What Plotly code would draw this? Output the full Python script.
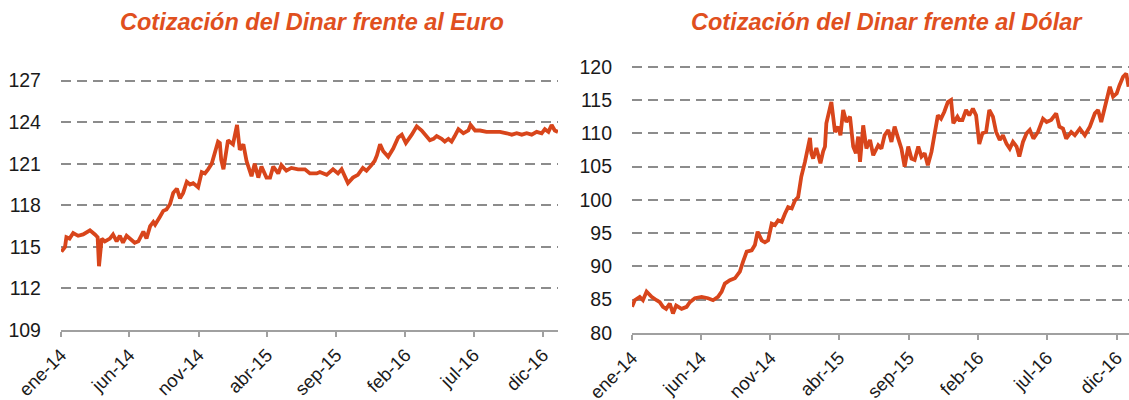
import plotly.graph_objects as go

# ---------------- Data ----------------
eur_dates = [
    "2014-01-02", "2014-01-10", "2014-01-13", "2014-01-20", "2014-01-28", "2014-02-08", "2014-02-19",
    "2014-03-06", "2014-03-17", "2014-03-23", "2014-03-26", "2014-04-01", "2014-04-08", "2014-04-19",
    "2014-04-26", "2014-05-04", "2014-05-11", "2014-05-18", "2014-05-26", "2014-06-06", "2014-06-13",
    "2014-06-21", "2014-07-02", "2014-07-09", "2014-07-17", "2014-07-24", "2014-07-28", "2014-08-08",
    "2014-08-15", "2014-08-22", "2014-08-30", "2014-09-06", "2014-09-14", "2014-09-21", "2014-09-28",
    "2014-10-06", "2014-10-13", "2014-10-20", "2014-10-31", "2014-11-08", "2014-11-15", "2014-11-22",
    "2014-11-30", "2014-12-07", "2014-12-14", "2014-12-18", "2014-12-21", "2014-12-26", "2015-01-05",
    "2015-01-16", "2015-01-25", "2015-01-31", "2015-02-08", "2015-02-15", "2015-02-26", "2015-03-05",
    "2015-03-13", "2015-03-20", "2015-03-31", "2015-04-08", "2015-04-15", "2015-04-26", "2015-05-03",
    "2015-05-14", "2015-05-25", "2015-06-09", "2015-06-24", "2015-07-05", "2015-07-20", "2015-07-27",
    "2015-08-11", "2015-08-25", "2015-09-05", "2015-09-13", "2015-09-27", "2015-10-08", "2015-10-19",
    "2015-10-30", "2015-11-07", "2015-11-18", "2015-11-25", "2015-11-30", "2015-12-07", "2015-12-14",
    "2015-12-25", "2016-01-05", "2016-01-16", "2016-01-24", "2016-02-02", "2016-02-15", "2016-02-26",
    "2016-03-08", "2016-03-19", "2016-03-26", "2016-04-03", "2016-04-10", "2016-04-21", "2016-04-28",
    "2016-05-06", "2016-05-13", "2016-05-20", "2016-05-28", "2016-06-08", "2016-06-19", "2016-06-24",
    "2016-07-04", "2016-07-15", "2016-07-29", "2016-08-13", "2016-08-28", "2016-09-12", "2016-09-23",
    "2016-10-04", "2016-10-15", "2016-10-26", "2016-11-06", "2016-11-17", "2016-11-28", "2016-12-05",
    "2016-12-13", "2016-12-20", "2016-12-27", "2017-01-03",
]
eur_values = [
    114.65, 115.0, 115.7, 115.6, 116.0, 115.8, 115.9,
    116.2, 115.9, 115.7, 113.6, 115.6, 115.4, 115.6,
    115.9, 115.4, 115.8, 115.3, 115.8, 115.5, 115.3,
    115.4, 116.1, 115.6, 116.5, 116.8, 116.6, 117.2,
    117.6, 117.7, 118.1, 118.9, 119.2, 118.5, 118.9,
    119.7, 119.5, 119.6, 119.3, 120.4, 120.3, 120.6,
    121.0, 121.8, 122.6, 122.5, 121.3, 120.6, 122.7,
    122.4, 123.8, 122.0, 122.4, 121.2, 120.1, 121.0,
    120.0, 120.8, 120.0, 120.0, 120.8, 120.3, 120.9,
    120.5, 120.7, 120.6, 120.6, 120.3, 120.3, 120.4,
    120.2, 120.6, 120.3, 120.6, 119.6, 120.0, 120.2,
    120.7, 120.5, 120.9, 121.2, 121.6, 122.4, 121.9,
    121.5, 122.1, 122.9, 123.1, 122.5, 123.1, 123.7,
    123.4, 123.0, 122.7, 122.8, 123.0, 122.8, 122.6,
    122.8, 122.6, 123.0, 123.5, 123.2, 123.4, 123.8,
    123.4, 123.4, 123.3, 123.3, 123.3, 123.2, 123.1,
    123.2, 123.1, 123.2, 123.1, 123.3, 123.2, 123.5,
    123.3, 123.8, 123.4, 123.3,
]

usd_dates = [
    "2014-01-01", "2014-01-07", "2014-01-18", "2014-01-25", "2014-02-02", "2014-02-13", "2014-02-24",
    "2014-03-03", "2014-03-10", "2014-03-17", "2014-03-25", "2014-04-01", "2014-04-08", "2014-04-20",
    "2014-05-01", "2014-05-08", "2014-05-19", "2014-06-03", "2014-06-17", "2014-06-28", "2014-07-09",
    "2014-07-17", "2014-07-24", "2014-08-04", "2014-08-15", "2014-08-26", "2014-09-02", "2014-09-10",
    "2014-09-21", "2014-09-28", "2014-10-04", "2014-10-13", "2014-10-20", "2014-10-27", "2014-11-04",
    "2014-11-11", "2014-11-18", "2014-11-26", "2014-12-03", "2014-12-10", "2014-12-18", "2014-12-25",
    "2015-01-01", "2015-01-08", "2015-01-16", "2015-01-21", "2015-01-27", "2015-01-30", "2015-02-03",
    "2015-02-10", "2015-02-19", "2015-02-25", "2015-03-01", "2015-03-04", "2015-03-08", "2015-03-15",
    "2015-03-23", "2015-03-30", "2015-04-04", "2015-04-10", "2015-04-17", "2015-04-25", "2015-05-02",
    "2015-05-08", "2015-05-13", "2015-05-17", "2015-05-24", "2015-05-31", "2015-06-08", "2015-06-15",
    "2015-06-26", "2015-07-03", "2015-07-10", "2015-07-18", "2015-07-25", "2015-08-01", "2015-08-09",
    "2015-08-16", "2015-08-23", "2015-08-31", "2015-09-07", "2015-09-14", "2015-09-22", "2015-09-29",
    "2015-10-06", "2015-10-13", "2015-10-21", "2015-10-28", "2015-11-04", "2015-11-11", "2015-11-18",
    "2015-11-26", "2015-12-03", "2015-12-08", "2015-12-17", "2015-12-21", "2015-12-28", "2016-01-05",
    "2016-01-12", "2016-01-20", "2016-01-27", "2016-02-03", "2016-02-10", "2016-02-18", "2016-02-25",
    "2016-03-04", "2016-03-11", "2016-03-19", "2016-03-26", "2016-04-03", "2016-04-10", "2016-04-17",
    "2016-04-25", "2016-05-01", "2016-05-09", "2016-05-17", "2016-05-24", "2016-06-01", "2016-06-11",
    "2016-06-22", "2016-06-30", "2016-07-10", "2016-07-21", "2016-07-28", "2016-08-05", "2016-08-12",
    "2016-08-23", "2016-08-31", "2016-09-11", "2016-09-22", "2016-10-03", "2016-10-14", "2016-10-21",
    "2016-10-28", "2016-11-08", "2016-11-16", "2016-11-23", "2016-12-01", "2016-12-07", "2016-12-15",
    "2016-12-22", "2016-12-27",
]
usd_values = [
    83.9, 84.9, 85.4, 84.9, 86.2, 85.4, 84.9,
    84.6, 83.9, 83.6, 84.4, 82.9, 84.1, 83.6,
    83.9, 84.6, 85.2, 85.4, 85.2, 84.9, 85.4,
    86.2, 87.4, 87.9, 88.2, 89.2, 90.7, 92.2,
    92.4, 93.2, 95.2, 93.9, 93.6, 93.9, 96.4,
    96.2, 96.9, 96.7, 97.9, 98.9, 98.7, 99.9,
    100.4, 103.5, 105.7, 107.5, 109.3, 107.0, 106.2,
    107.8, 105.5, 107.3, 108.0, 111.5, 112.5, 114.7,
    110.2, 111.0, 109.7, 113.5, 111.7, 112.5, 108.0,
    107.0, 109.5, 105.7, 111.2, 107.7, 109.0, 106.7,
    108.2, 107.7, 109.7, 110.5, 108.7, 111.0, 109.2,
    107.7, 105.0, 108.0, 106.2, 106.0, 108.0, 106.5,
    107.0, 105.2, 107.2, 109.7, 112.7, 112.2, 113.2,
    114.7, 115.0, 111.5, 112.5, 112.0, 112.0, 113.5,
    112.7, 113.7, 112.7, 108.4, 110.0, 110.2, 113.5,
    112.5, 110.2, 109.0, 109.7, 108.4, 107.7, 108.7,
    108.0, 106.5, 108.7, 110.0, 110.5, 109.2, 110.2,
    112.2, 111.7, 112.0, 113.0, 111.0, 110.7, 109.2,
    110.2, 109.7, 110.7, 109.7, 111.0, 113.0, 113.5,
    111.7, 115.0, 117.0, 115.5, 116.0, 117.2, 118.5,
    119.0, 117.0,
]

x_tick_dates = ["2014-01-01", "2014-06-01", "2014-11-01", "2015-04-01",
                "2015-09-01", "2016-02-01", "2016-07-01", "2016-12-01"]
x_tick_labels = ["ene-14", "jun-14", "nov-14", "abr-15", "sep-15", "feb-16", "jul-16", "dic-16"]
eur_y_ticks = [109, 112, 115, 118, 121, 124, 127]
usd_y_ticks = [80, 85, 90, 95, 100, 105, 110, 115, 120]

title_eur = "Cotización del Dinar frente al Euro"
title_usd = "Cotización del Dinar frente al Dólar"

# ---------------- Styles ----------------
LINE_COLOR = "#D8451B"
TITLE_COLOR = "#E0501E"
GRID_COLOR = "#8C8C8C"
AXIS_COLOR = "#A0A0A0"
FONT = "Liberation Sans, Arial, sans-serif"
Y_TICK_FONT = dict(family=FONT, size=19.5, color="#1A1A1A")
X_TICK_FONT = dict(family=FONT, size=18.5, color="#1A1A1A")

fig = go.Figure()
fig.add_trace(go.Scatter(x=eur_dates, y=eur_values, mode="lines",
                         line=dict(color=LINE_COLOR, width=3.8),
                         xaxis="x", yaxis="y", showlegend=False, hoverinfo="skip"))
fig.add_trace(go.Scatter(x=usd_dates, y=usd_values, mode="lines",
                         line=dict(color=LINE_COLOR, width=3.8),
                         xaxis="x2", yaxis="y2", showlegend=False, hoverinfo="skip"))

xaxis_common = dict(
    type="date", tickvals=x_tick_dates, ticktext=x_tick_labels, tickangle=-45,
    tickfont=X_TICK_FONT, showgrid=False, showline=True, linecolor=AXIS_COLOR, linewidth=2,
    ticks="outside", ticklen=5, tickwidth=2, tickcolor=AXIS_COLOR, zeroline=False,
    automargin=False, fixedrange=True,
)
yaxis_common = dict(
    tickfont=Y_TICK_FONT, showgrid=True, gridcolor=GRID_COLOR, gridwidth=2,
    griddash="10px,6px", showline=False, ticks="", zeroline=False,
    automargin=False, fixedrange=True, ticklabelstandoff=19,
)

fig.update_layout(
    width=1129, height=400,
    margin=dict(l=0, r=0, t=0, b=0),
    paper_bgcolor="white", plot_bgcolor="white",
    xaxis=dict(xaxis_common, domain=[0.0540, 0.4942], range=["2014-01-01", "2017-01-03"], anchor="y"),
    yaxis=dict(yaxis_common, domain=[0.175, 0.8053], range=[109, 127.2], tickvals=eur_y_ticks, anchor="x"),
    xaxis2=dict(xaxis_common, domain=[0.5598, 1.0], range=["2014-01-01", "2016-12-28"], anchor="y2"),
    yaxis2=dict(yaxis_common, domain=[0.168, 0.838], range=[80, 120.3], tickvals=usd_y_ticks, anchor="x2"),
    annotations=[
        dict(text=f"<b><i>{title_eur}</i></b>", x=312 / 1129, y=1 - 22 / 400, xref="paper", yref="paper",
             xanchor="center", yanchor="middle", showarrow=False,
             font=dict(family=FONT, size=23.5, color=TITLE_COLOR)),
        dict(text=f"<b><i>{title_usd}</i></b>", x=887 / 1129, y=1 - 22 / 400, xref="paper", yref="paper",
             xanchor="center", yanchor="middle", showarrow=False,
             font=dict(family=FONT, size=23.5, color=TITLE_COLOR)),
    ],
)

fig.write_html("out.html", config={"displayModeBar": False, "staticPlot": True})

# remove the browser's default page margin so the figure sits at the window's top-left corner
with open("out.html", "r", encoding="utf-8") as f:
    html = f.read()
html = html.replace("<head>", "<head><style>html,body{margin:0;padding:0;overflow:hidden;}</style>", 1)
with open("out.html", "w", encoding="utf-8") as f:
    f.write(html)
